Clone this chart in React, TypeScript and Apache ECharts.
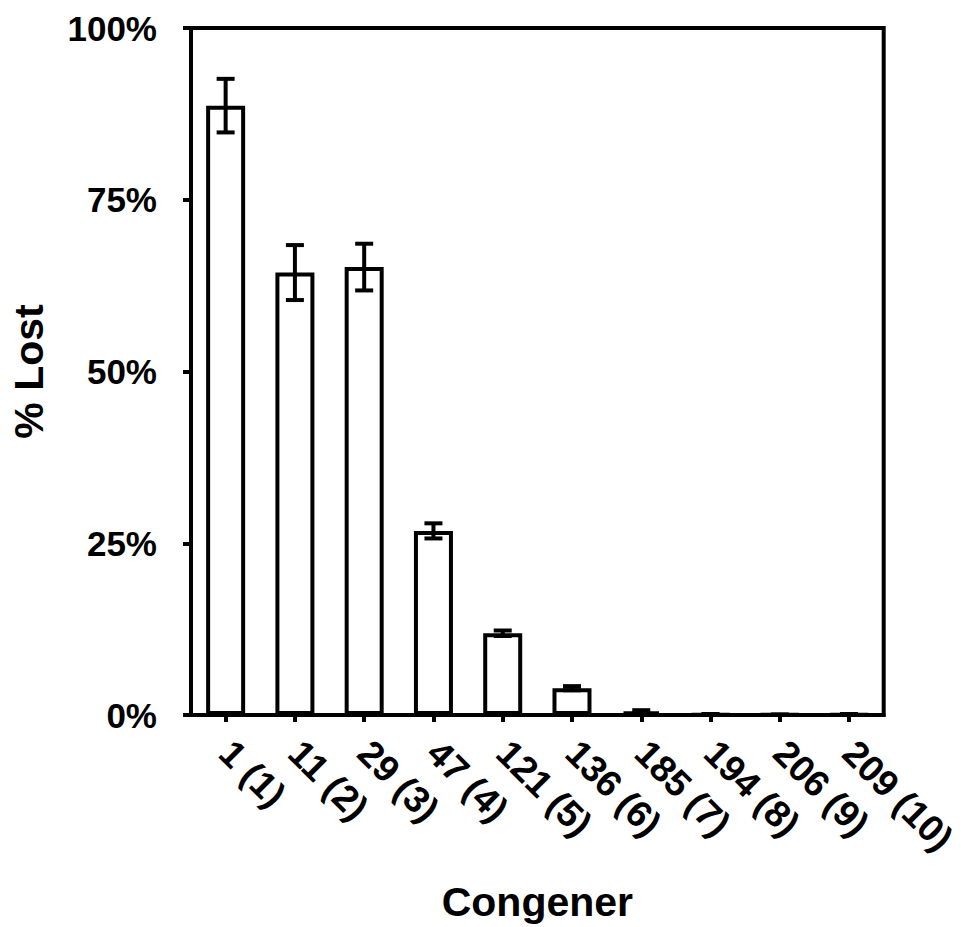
import React, { useEffect, useRef } from "react";
import * as echarts from "echarts";

const categories = ["1 (1)", "11 (2)", "29 (3)", "47 (4)", "121 (5)", "136 (6)", "185 (7)", "194 (8)", "206 (9)", "209 (10)"];
const percentLost = [88.7, 64.4, 65.2, 26.8, 11.9, 3.9, 0.5, 0.1, 0.05, 0.1];
const errors = [3.9, 4.0, 3.4, 1.1, 0.4, 0.3, 0.2, 0.05, 0.03, 0.05];
const yTicks = [0, 25, 50, 75, 100];

const FONT = "'Liberation Sans', Arial, sans-serif";

export default function App() {
  const ref = useRef<HTMLDivElement>(null);
  useEffect(() => {
    if (!ref.current) return;
    const chart = echarts.init(ref.current, null, { renderer: "svg" });
    const errData = categories.map((c, i) => [i, percentLost[i] - errors[i], percentLost[i] + errors[i]]);
    chart.setOption({
      animation: false,
      backgroundColor: "#fff",
      textStyle: { fontFamily: FONT },
      grid: {
        left: 187,
        right: 67,
        top: 28,
        bottom: 211,
        show: true,
        borderColor: "#000",
        borderWidth: 4,
        containLabel: false,
      },
      xAxis: {
        type: "category",
        data: categories,
        name: "Congener",
        nameLocation: "middle",
        nameGap: 166,
        nameTextStyle: { fontSize: 41, fontWeight: "bold", color: "#000", fontFamily: FONT },
        axisLine: { lineStyle: { color: "#000", width: 4 } },
        axisTick: { show: true, alignWithLabel: true, length: 7, lineStyle: { color: "#000", width: 4 } },
        axisLabel: {
          rotate: -45,
          margin: 32,
          fontSize: 37,
          fontWeight: "bold",
          color: "#000",
          fontFamily: FONT,
          interval: 0,
        },
        splitLine: { show: false },
      },
      yAxis: {
        type: "value",
        min: yTicks[0],
        max: yTicks[yTicks.length - 1],
        interval: 25,
        name: "% Lost",
        nameLocation: "middle",
        nameRotate: 90,
        nameGap: 142,
        nameTextStyle: { fontSize: 41, fontWeight: "bold", color: "#000", fontFamily: FONT },
        axisLine: { show: true, lineStyle: { color: "#000", width: 4 } },
        axisTick: { show: true, length: 8, lineStyle: { color: "#000", width: 4 } },
        axisLabel: {
          margin: 34,
          fontSize: 35,
          fontWeight: "bold",
          color: "#000",
          fontFamily: FONT,
          formatter: "{value}%",
        },
        splitLine: { show: false },
      },
      series: [
        {
          type: "bar",
          data: percentLost,
          barWidth: 39,
          itemStyle: { color: "#fff", borderColor: "#000", borderWidth: 4 },
        },
        {
          type: "custom",
          data: errData,
          z: 10,
          renderItem: (params: any, api: any) => {
            const x = api.value(0);
            const lo = api.coord([x, api.value(1)]);
            const hi = api.coord([x, api.value(2)]);
            const hw = 9;
            const style = { stroke: "#000", lineWidth: 4 };
            return {
              type: "group",
              children: [
                { type: "line", shape: { x1: hi[0], y1: hi[1], x2: lo[0], y2: lo[1] }, style },
                { type: "line", shape: { x1: hi[0] - hw, y1: hi[1], x2: hi[0] + hw, y2: hi[1] }, style },
                { type: "line", shape: { x1: lo[0] - hw, y1: lo[1], x2: lo[0] + hw, y2: lo[1] }, style },
              ],
            };
          },
        },
      ],
    });
    return () => chart.dispose();
  }, []);
  return <div ref={ref} style={{ position: "absolute", left: 0, top: 0, width: 961, height: 927 }} />;
}
